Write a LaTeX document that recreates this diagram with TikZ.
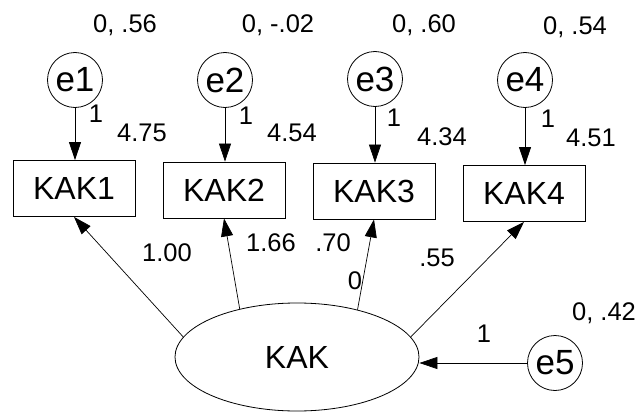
\documentclass[tikz,border=0pt]{standalone}
\usepackage{fontspec}
\setmainfont{Liberation Sans}
\usetikzlibrary{arrows.meta,shapes.geometric}
\begin{document}
\begin{tikzpicture}[x=1pt,y=-1pt,
  errvar/.style={draw,circle,line width=0.8pt,minimum size=55pt,inner sep=0pt,
    font=\fontsize{35}{37}\selectfont},
  indicator/.style={draw,rectangle,line width=0.8pt,minimum width=122pt,minimum height=56pt,
    inner sep=0pt,font=\fontsize{32}{34}\selectfont},
  latent/.style={draw,ellipse,line width=0.8pt,minimum width=244pt,minimum height=108pt,
    inner sep=0pt,font=\fontsize{32}{34}\selectfont},
  estim/.style={inner sep=0pt,font=\fontsize{25.5}{27}\selectfont},
  path arrow/.style={line width=0.7pt,-{Triangle[length=18pt,width=12pt]}}]
  \useasboundingbox (0,0) rectangle (640,412);
  \fill[white] (0,0) rectangle (640,412);

  % error terms
  \node[errvar] (e1) at (75,80) {e1};
  \node[errvar] (e2) at (225,80) {e2};
  \node[errvar] (e3) at (375,79) {e3};
  \node[errvar] (e4) at (525,80) {e4};
  \node[errvar] (e5) at (555,363) {e5};

  % observed indicators
  \node[indicator] (k1) at (74,188.5) {KAK1};
  \node[indicator] (k2) at (224,190) {KAK2};
  \node[indicator] (k3) at (374,191) {KAK3};
  \node[indicator] (k4) at (524,193.5) {KAK4};

  % latent construct
  \node[latent] (kak) at (297,357) {KAK};

  % error paths
  \draw[path arrow] (e1) -- (e1 |- k1.north);
  \draw[path arrow] (e2) -- (e2 |- k2.north);
  \draw[path arrow] (e3) -- (e3 |- k3.north);
  \draw[path arrow] (e4) -- (e4 |- k4.north);
  \draw[path arrow] (e5) -- (e5 -| kak.east);

  % loadings
  \draw[path arrow] (kak.170) -- (k1.south);
  \draw[path arrow] (kak.140) -- (k2.south);
  \draw[path arrow] (kak.38) -- (k3.south);
  \draw[path arrow] (kak.10) -- (k4.south);

  % variance estimates
  \node[estim] (v1) at (125,25) {0, .56};
  \node[estim] (v2) at (278,25) {0, -.02};
  \node[estim] (v3) at (424,25) {0, .60};
  \node[estim] (v4) at (575,27) {0, .54};
  \node[estim] (v5) at (604,313) {0, .42};

  % fixed error weights
  \node[estim] (w1) at (96,114) {1};
  \node[estim] (w2) at (246,116) {1};
  \node[estim] (w3) at (394,118) {1};
  \node[estim] (w4) at (548,119) {1};
  \node[estim] (w5) at (484,334) {1};

  % intercepts
  \node[estim] (i1) at (142,133) {4.75};
  \node[estim] (i2) at (292,133) {4.54};
  \node[estim] (i3) at (442,137) {4.34};
  \node[estim] (i4) at (591,138) {4.51};

  % loading estimates
  \node[estim] (l1) at (167,253) {1.00};
  \node[estim] (l2) at (271,243) {1.66};
  \node[estim] (l3) at (333,243) {.70};
  \node[estim] (l4) at (437,258) {.55};
  \node[estim] (m0) at (355,281) {0};
\end{tikzpicture}
\end{document}
